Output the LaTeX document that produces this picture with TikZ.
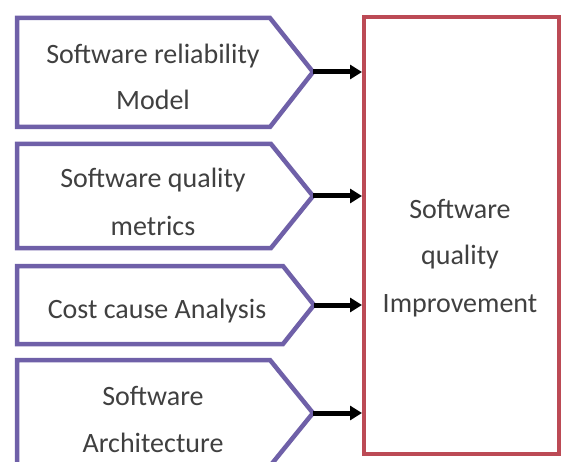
\documentclass[tikz,border=0pt]{standalone}
\usepackage{fontspec}
\setmainfont{Carlito}
\usetikzlibrary{arrows.meta}
\definecolor{boxpurple}{HTML}{6F60A8}
\definecolor{boxred}{HTML}{BC4A55}
\definecolor{txtgray}{HTML}{404040}
\tikzset{
  inbox/.style={draw=boxpurple, line width=4.5pt, line join=miter, fill=white},
  lbl/.style={anchor=base, inner sep=0pt, text=txtgray, font=\fontsize{28}{34}\selectfont},
  conn/.style={line width=5pt, -{Triangle[length=12pt,width=14pt]}},
}
\begin{document}
\begin{tikzpicture}[x=1pt,y=-1pt]
\useasboundingbox (0,0) rectangle (561,462);
\fill[white] (0,0) rectangle (561,462);
\clip (0,0) rectangle (561,462);
% input shapes
\draw[inbox] (17,18) -- (270,18) -- (313,72) -- (270,127) -- (17,127) -- cycle;
\coordinate (tip1) at (313,72);
\draw[inbox] (17,144) -- (271,144) -- (313,196) -- (271,248) -- (17,248) -- cycle;
\coordinate (tip2) at (313,196);
\draw[inbox] (17,266) -- (283,266) -- (314,305) -- (283,344) -- (17,344) -- cycle;
\coordinate (tip3) at (314,305);
\draw[inbox] (17,360) -- (270,360) -- (313,413) -- (270,466) -- (17,466) -- cycle;
\coordinate (tip4) at (313,413);
% target
\node[draw=boxred, line width=4pt, minimum width=195pt, minimum height=437pt, inner sep=0pt, anchor=north west] (imp) at (362,15) {};
% labels
\node[lbl] (a1) at (153,64) {Software reliability};
\node[lbl] (a2) at (153,110) {Model};
\node[lbl] (b1) at (153,188) {Software quality};
\node[lbl] (b2) at (153,235) {metrics};
\node[lbl] (c1) at (157,318) {Cost cause Analysis};
\node[lbl] (d1) at (153,405) {Software};
\node[lbl] (d2) at (153,452) {Architecture};
\node[lbl] (e1) at (460,218) {Software};
\node[lbl] (e2) at (460,264) {quality};
\node[lbl] (e3) at (460,312) {Improvement};
% connectors
\draw[conn] (tip1) -- (tip1 -| imp.west);
\draw[conn] (tip2) -- (tip2 -| imp.west);
\draw[conn] (tip3) -- (tip3 -| imp.west);
\draw[conn] (tip4) -- (tip4 -| imp.west);
\end{tikzpicture}
\end{document}
